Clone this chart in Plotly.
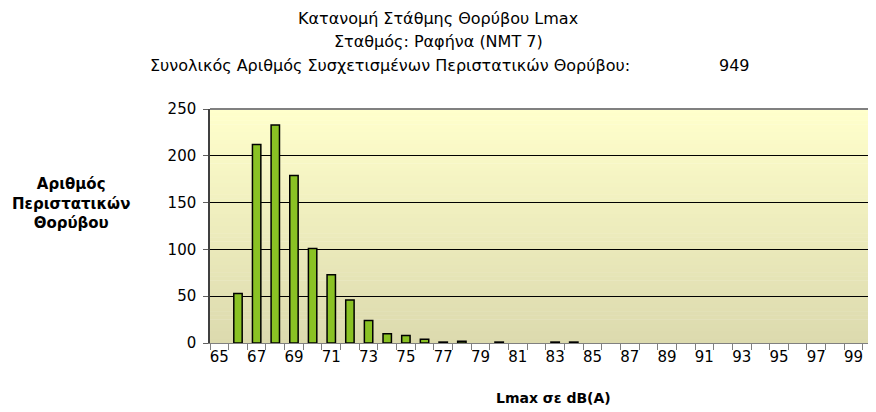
import plotly.graph_objects as go

# Données
niveaux = list(range(65, 101))
comptes = [0, 53, 212, 233, 179, 101, 73, 46, 24, 10, 8, 4, 1, 2, 0, 1, 0, 0, 1, 1] + [0] * 16
etiquettes_x = list(range(65, 100, 2))
total_incidents = 949

titre_l1 = "Κατανομή Στάθμης Θορύβου Lmax"
titre_l2 = "Σταθμός: Ραφήνα (ΝΜΤ 7)"
titre_l3 = "Συνολικός Αριθμός Συσχετισμένων Περιστατικών Θορύβου:"

POLICE = "DejaVu Sans"
# la page html garde une marge de 8px autour du graphique
DECALAGE = 8

# on ne dessine pas les classes vides (Excel n'affiche rien)
x_barres = [n for n, c in zip(niveaux, comptes) if c > 0]
y_barres = [c for c in comptes if c > 0]

fig = go.Figure()
fig.add_trace(go.Bar(
    x=x_barres, y=y_barres, width=0.45,
    marker=dict(color="#8AC224", line=dict(color="black", width=1.5)),
))

# fond en dégradé (bandes horizontales)
haut = (255, 255, 204)
bas = (220, 218, 174)
n = 60
formes = []
for i in range(n):
    t = i / (n - 1)
    c = tuple(round(bas[k] + (haut[k] - bas[k]) * t) for k in range(3))
    formes.append(dict(type="rect", xref="x domain", yref="y domain",
                       x0=0, x1=1, y0=i / n, y1=(i + 1) / n + 0.002,
                       fillcolor="rgb(%d,%d,%d)" % c, line=dict(width=0), layer="below"))
formes.append(dict(type="line", xref="x domain", yref="y domain", x0=0, x1=1, y0=1, y1=1,
                   line=dict(color="#808080", width=2), layer="above"))


def texte(t, x, y, taille, ancre="center"):
    # position en pixels (écran) -> coordonnées papier
    return dict(text=t, x=(x - 210) / 666, y=(343 - y) / 234, xref="paper", yref="paper",
                xanchor=ancre, yanchor="middle", showarrow=False, font=dict(size=taille))


fig.update_layout(
    width=876 - DECALAGE, height=412 - DECALAGE,
    margin=dict(l=210 - DECALAGE, r=0, t=109 - DECALAGE, b=412 - 343),
    paper_bgcolor="white", plot_bgcolor="rgba(0,0,0,0)",
    font=dict(family=POLICE, size=14, color="black"),
    showlegend=False,
    shapes=formes,
    xaxis=dict(
        range=[64.5, 100.2], tickvals=etiquettes_x, ticks="",
        showgrid=False, zeroline=False, showline=True, linecolor="#808080", linewidth=1,
        tickfont=dict(size=15),
        minor=dict(tick0=64.5, dtick=1, ticks="outside", ticklen=6, tickcolor="#808080", showgrid=False),
    ),
    yaxis=dict(
        range=[0, 250], dtick=50, ticks="outside", ticklen=5, tickcolor="#606060",
        showgrid=True, gridcolor="black", gridwidth=1, zeroline=False, ticklabelstandoff=4,
        showline=True, linecolor="#404040", linewidth=1.5, tickfont=dict(size=15),
    ),
    annotations=[
        texte(titre_l1, 438, 18, 16),
        texte(titre_l2, 438, 42, 16),
        texte(titre_l3, 148, 65, 16, "left"),
        texte(str(total_incidents), 752, 65, 16, "right"),
        texte("<b>Αριθμός<br>Περιστατικών<br>Θορύβου</b>", 71, 203, 15),
        texte("<b>Lmax σε dB(A)</b>", 553, 398, 14),
    ],
)

fig.write_html("out.html")
